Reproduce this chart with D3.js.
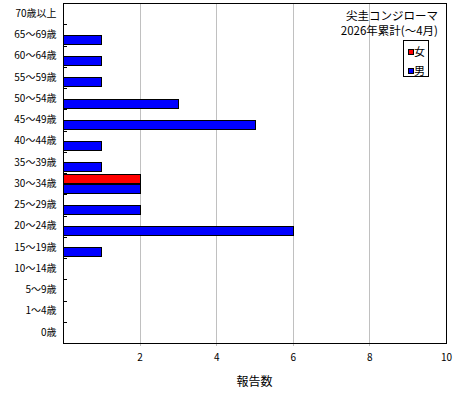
<!DOCTYPE html>
<html>
<head>
<meta charset="utf-8">
<script src="https://cdn.jsdelivr.net/npm/d3@7"></script>
<style>
body { margin: 0; background: #fff; }
text { font-family: "Noto Sans CJK JP", sans-serif; fill: #000; }
</style>
</head>
<body>
<svg id="chart"></svg>
<script>
// fasce d'età, dall'alto verso il basso
var eta = ["70歳以上", "65～69歳", "60～64歳", "55～59歳", "50～54歳", "45～49歳", "40～44歳",
           "35～39歳", "30～34歳", "25～29歳", "20～24歳", "15～19歳", "10～14歳", "5～9歳", "1～4歳", "0歳"];
var serie = ["女", "男"];
var colori = ["#ff0000", "#0000ff"];
var femmine = [0, 0, 0, 0, 0, 0, 0, 0, 2, 0, 0, 0, 0, 0, 0, 0];
var maschi  = [0, 1, 1, 1, 3, 5, 1, 1, 2, 2, 6, 1, 0, 0, 0, 0];
var tickX = [2, 4, 6, 8, 10];
var titolo = ["尖圭コンジローマ", "2026年累計(～4月)"];
var asseX = "報告数";

var svg = d3.select("#chart")
    .attr("width", 460)
    .attr("height", 400);

// bordi dell'area del grafico ("top" è già di window, quindi altri nomi)
var pLeft = 63, pRight = 446, pTop = 3, pBottom = 343;

var x = d3.scaleLinear().domain([0, 10]).range([pLeft, pRight]);
var y = d3.scaleBand().domain(eta).range([pTop, pBottom]);
var ySub = d3.scaleBand().domain(serie).range([0, y.bandwidth()]).paddingOuter(0.12);

// griglia verticale
svg.selectAll(".grid")
    .data(tickX.slice(0, -1))
    .enter().append("line")
    .attr("x1", d => Math.round(x(d)) + 0.5)
    .attr("x2", d => Math.round(x(d)) + 0.5)
    .attr("y1", pTop)
    .attr("y2", pBottom + 3)
    .style("stroke", "#c0c0c0")
    .style("stroke-width", 1);

// barre
var valori = [femmine, maschi];
serie.forEach(function (s, k) {
    svg.selectAll(".bar" + k)
        .data(eta.map((e, i) => ({eta: e, v: valori[k][i]})).filter(d => d.v > 0))
        .enter().append("rect")
        .attr("x", x(0) + 0.5)
        .attr("y", d => Math.round(y(d.eta) + ySub(s)) + 0.5)
        .attr("width", d => Math.round(x(d.v) - x(0)))
        .attr("height", Math.round(ySub.bandwidth()))
        .attr("fill", colori[k])
        .attr("stroke", "#000")
        .attr("stroke-width", 1);
});

// cornice
svg.append("rect")
    .attr("x", pLeft + 0.5)
    .attr("y", pTop + 0.5)
    .attr("width", pRight - pLeft)
    .attr("height", pBottom - pTop)
    .attr("fill", "none")
    .attr("stroke", "#000")
    .attr("stroke-width", 1);

// asse y: etichette e tacche interne
svg.append("g")
    .attr("transform", "translate(" + (pLeft + 0.5) + ",0)")
    .call(d3.axisLeft(y).tickSize(0).tickPadding(7))
    .call(g => g.select(".domain").remove())
    .selectAll("text")
    .style("font-size", "10px")
    .style("font-family", "'Noto Sans CJK JP', sans-serif");

svg.selectAll(".ytick")
    .data(eta.slice(1))
    .enter().append("line")
    .attr("x1", pLeft)
    .attr("x2", pLeft + 4)
    .attr("y1", d => Math.round(y(d)) + 0.5)
    .attr("y2", d => Math.round(y(d)) + 0.5)
    .style("stroke", "#000");

// asse x
svg.append("g")
    .attr("transform", "translate(0," + (pBottom + 0.5) + ")")
    .call(d3.axisBottom(x).tickValues(tickX).tickSize(0).tickPadding(10))
    .call(g => g.select(".domain").remove())
    .selectAll("text")
    .style("font-size", "10px")
    .style("font-family", "'Noto Sans CJK JP', sans-serif");

svg.append("text")
    .attr("x", (pLeft + pRight) / 2)
    .attr("y", 386)
    .attr("text-anchor", "middle")
    .style("font-size", "12px")
    .text(asseX);

// titolo in alto a destra
svg.selectAll(".titolo")
    .data(titolo)
    .enter().append("text")
    .attr("x", 438)
    .attr("y", (d, i) => 20 + i * 15)
    .attr("text-anchor", "end")
    .style("font-size", "11.5px")
    .text(d => d);

// legenda
var leg = svg.append("g").attr("transform", "translate(403,40)");
leg.append("rect")
    .attr("x", 0.5).attr("y", 0.5)
    .attr("width", 25).attr("height", 36)
    .attr("fill", "#fff").attr("stroke", "#000");
serie.forEach(function (s, k) {
    leg.append("rect")
        .attr("x", 5.5).attr("y", 9.5 + k * 19)
        .attr("width", 5).attr("height", 5)
        .attr("fill", colori[k]).attr("stroke", "#000");
    leg.append("text")
        .attr("x", 11).attr("y", 16 + k * 19)
        .style("font-size", "11px")
        .text(s);
});
</script>
</body>
</html>
